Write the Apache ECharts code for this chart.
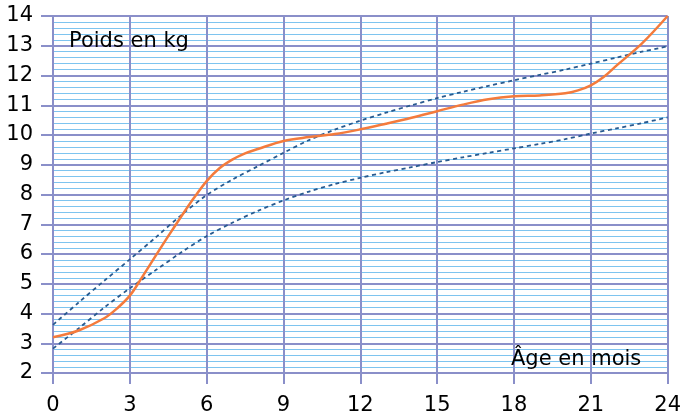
<!DOCTYPE html>
<html>
<head>
<meta charset="utf-8">
<script src="https://cdn.jsdelivr.net/npm/echarts@6/dist/echarts.min.js"></script>
<style>
  html, body { margin: 0; padding: 0; background: #fff; }
  #chart { width: 684px; height: 417px; }
</style>
</head>
<body>
<div id="chart"></div>
<script>
// Age in months for the reference curves
const ages = [0, 1, 2, 3, 4, 5, 6, 7, 8, 9, 10, 11, 12, 13, 14, 15, 16, 17, 18, 19, 20, 21, 22, 23, 24];

// Upper reference curve (kg)
const upperCurve = [3.62, 4.37, 5.1, 5.82, 6.55, 7.3, 7.98, 8.5, 8.95, 9.4, 9.83, 10.18, 10.48, 10.75, 11.0, 11.24, 11.45, 11.65, 11.84, 12.02, 12.2, 12.4, 12.6, 12.8, 12.98];

// Lower reference curve (kg)
const lowerCurve = [2.82, 3.5, 4.2, 4.85, 5.45, 6.05, 6.6, 7.05, 7.45, 7.8, 8.1, 8.35, 8.56, 8.75, 8.92, 9.09, 9.25, 9.4, 9.55, 9.7, 9.86, 10.05, 10.22, 10.4, 10.59];

// Child's measured weight: ages (months) and weights (kg)
const weighAges = [0, 1, 2, 2.5, 3, 3.5, 4, 4.5, 5, 5.5, 6, 6.5, 7, 7.5, 8, 9, 10, 11, 12, 13, 14, 15, 16, 17, 18, 19, 20, 20.5, 21, 21.5, 22, 23, 24];
const weight = [3.2, 3.43, 3.84, 4.17, 4.6, 5.25, 5.93, 6.6, 7.25, 7.88, 8.45, 8.88, 9.17, 9.38, 9.53, 9.8, 9.93, 10.03, 10.19, 10.38, 10.58, 10.8, 11.02, 11.2, 11.3, 11.33, 11.4, 11.5, 11.67, 11.95, 12.33, 13.08, 14.0];

// Axis tick values
const xTicks = [0, 3, 6, 9, 12, 15, 18, 21, 24];
const yTicks = [2, 3, 4, 5, 6, 7, 8, 9, 10, 11, 12, 13, 14];

const yTitle = 'Poids en kg';
const xTitle = 'Âge en mois';

const majorColor = '#8a8fc9';
const minorColor = '#7ec4ef';
const font = 'DejaVu Sans';

const zip = (xs, ys) => xs.map((x, i) => [x, ys[i]]);

const chart = echarts.init(document.getElementById('chart'), null, { renderer: 'canvas' });

const dashed = {
  type: 'line',
  smooth: 0.3,
  symbol: 'none',
  z: 3,
  lineStyle: { color: '#285a8f', width: 1.8, type: [4, 3.5] }
};

chart.setOption({
  animation: false,
  backgroundColor: '#ffffff',
  grid: { left: 53, right: 13, top: 16, bottom: 44, containLabel: false },
  xAxis: {
    type: 'value',
    min: xTicks[0],
    max: xTicks[xTicks.length - 1],
    interval: xTicks[1] - xTicks[0],
    z: 2,
    axisLine: { show: false },
    axisTick: { show: true, length: 11, lineStyle: { color: majorColor, width: 2 } },
    axisLabel: { color: '#000', fontFamily: font, fontSize: 21, margin: 22 },
    splitLine: { show: true, lineStyle: { color: majorColor, width: 2 } }
  },
  yAxis: {
    type: 'value',
    min: yTicks[0],
    max: yTicks[yTicks.length - 1],
    interval: yTicks[1] - yTicks[0],
    z: 1,
    axisLine: { show: false },
    axisTick: { show: true, length: 12, lineStyle: { color: majorColor, width: 2 } },
    axisLabel: { color: '#000', fontFamily: font, fontSize: 21, margin: 20 },
    splitLine: { show: true, lineStyle: { color: majorColor, width: 2 } },
    minorTick: { show: false, splitNumber: 5 },
    minorSplitLine: { show: true, lineStyle: { color: minorColor, width: 1 } }
  },
  series: [
    Object.assign({ name: 'upper', data: zip(ages, upperCurve) }, dashed),
    Object.assign({ name: 'lower', data: zip(ages, lowerCurve) }, dashed),
    {
      name: 'weight',
      type: 'line',
      smooth: 0.35,
      symbol: 'none',
      z: 4,
      data: zip(weighAges, weight),
      lineStyle: { color: '#f47b3c', width: 2.5 }
    }
  ],
  graphic: [
    {
      type: 'text', left: 69, top: 31, z: 10,
      style: { text: yTitle, fill: '#000', font: '21px "DejaVu Sans"' }
    },
    {
      type: 'text', left: 511, top: 349, z: 10,
      style: { text: xTitle, fill: '#000', font: '21px "DejaVu Sans"' }
    }
  ]
});
</script>
</body>
</html>
